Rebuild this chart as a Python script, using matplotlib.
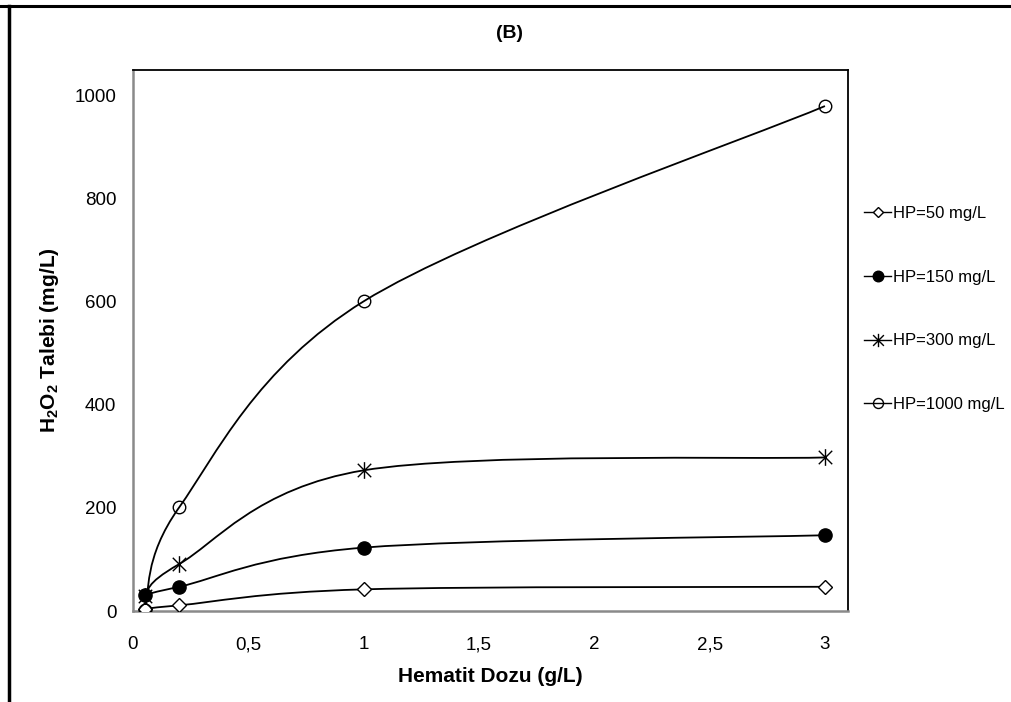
import numpy as np
import matplotlib
matplotlib.use("Agg")
import matplotlib.pyplot as plt
from matplotlib.path import Path
from matplotlib.patches import PathPatch
from matplotlib.lines import Line2D
from matplotlib.transforms import blended_transform_factory, offset_copy

plt.rcParams['font.family'] = ['Liberation Sans', 'DejaVu Sans']
plt.rcParams['mathtext.fontset'] = 'custom'
plt.rcParams['mathtext.rm'] = 'Liberation Sans:bold'
plt.rcParams['mathtext.bf'] = 'Liberation Sans:bold'
plt.rcParams['mathtext.it'] = 'Liberation Sans:bold'

# Hematite dose (g/L)
dose = [0.05, 0.2, 1.0, 3.0]

# H2O2 demand (mg/L) for each initial H2O2 concentration
hp50 = [4, 11, 42, 47]
hp150 = [31, 47, 123, 147]
hp300 = [30, 91, 273, 298]
hp1000 = [2, 201, 601, 980]

labels = ["HP=50 mg/L", "HP=150 mg/L", "HP=300 mg/L", "HP=1000 mg/L"]
title = "(B)"
xlabel = "Hematit Dozu (g/L)"
ylabel = r"H$\mathrm{_2}$O$\mathrm{_2}$ Talebi (mg/L)"
xticks = [0, 0.5, 1, 1.5, 2, 2.5, 3]
xticklabels = ["0", "0,5", "1", "1,5", "2", "2,5", "3"]
yticks = [0, 200, 400, 600, 800, 1000]

XMAX, YMAX = 3.1, 1050

# Excel-style asterisk: an X with a vertical bar
star = Path([(-0.5, -0.5), (0.5, 0.5), (-0.5, 0.5), (0.5, -0.5), (0, -0.62), (0, 0.62)],
            [Path.MOVETO, Path.LINETO, Path.MOVETO, Path.LINETO, Path.MOVETO, Path.LINETO])

styles = [
    dict(marker="D", ms=7.0, mfc="white", mec="black", mew=1.0),
    dict(marker="o", ms=9.5, mfc="black", mec="black", mew=1.0),
    dict(marker=star, ms=12, mfc="none", mec="black", mew=1.0),
    dict(marker="o", ms=9.0, mfc="none", mec="black", mew=1.0),
]

fig = plt.figure(figsize=(10.12, 7.02), dpi=100)
ax = fig.add_axes([133 / 1012, 1 - 611 / 702, (848 - 133) / 1012, (611 - 70) / 702])
ax.set_xlim(0, XMAX)
ax.set_ylim(0, YMAX)

# scale factors so smoothing is done in (approximately) screen space
sx = 715 / XMAX
sy = 541 / YMAX


def smooth_path(xs, ys):
    pts = np.column_stack([np.asarray(xs, float) * sx, np.asarray(ys, float) * sy])
    n = len(pts)
    verts = [pts[0]]
    codes = [Path.MOVETO]
    for i in range(n - 1):
        p0 = pts[i - 1] if i > 0 else pts[i]
        p1 = pts[i]
        p2 = pts[i + 1]
        p3 = pts[i + 2] if i + 2 < n else pts[i + 1]
        c1 = p1 + (p2 - p0) / 6.0
        c2 = p2 - (p3 - p1) / 6.0
        verts += [c1, c2, p2]
        codes += [Path.CURVE4] * 3
    verts = np.array(verts)
    verts[:, 0] /= sx
    verts[:, 1] /= sy
    return Path(verts, codes)


series = [hp50, hp150, hp300, hp1000]
handles = []
for ys, st, lab in zip(series, styles, labels):
    ax.add_patch(PathPatch(smooth_path(dose, ys), fc="none", ec="black", lw=1.3, zorder=2))
    ax.plot(dose, ys, ls="none", zorder=3, **st)
    handles.append(Line2D([], [], color="black", lw=1.0, label=lab,
                          marker=st["marker"], ms=st["ms"] * 0.8, mfc=st["mfc"],
                          mec=st["mec"], mew=st["mew"]))

# x tick labels share one baseline below the axis
ax.set_xticks(xticks)
ax.set_xticklabels([])
base = offset_copy(blended_transform_factory(ax.transData, ax.transAxes),
                   fig=fig, x=0, y=-38, units="dots")
for xv, lab in zip(xticks, xticklabels):
    ax.text(xv, 0, lab, transform=base, ha="center", va="baseline",
            fontsize=13.5, clip_on=False)

ax.set_yticks(yticks)
ax.tick_params(axis="both", length=0, labelsize=13.5)
ax.tick_params(axis="y", pad=12)

for side in ("left", "bottom"):
    ax.spines[side].set_color("#8a8a8a")
    ax.spines[side].set_linewidth(1.8)
for side in ("top", "right"):
    ax.spines[side].set_color("black")
    ax.spines[side].set_linewidth(1.3)

fig.text(490 / 1012, 1 - 677 / 702, xlabel, ha="center", va="center",
         fontsize=15, fontweight="bold")
ax.set_ylabel(ylabel, fontsize=15, fontweight="bold", labelpad=10)

fig.text(510 / 1012, 1 - 33 / 702, title, ha="center", va="center",
         fontsize=14, fontweight="bold")

leg = fig.legend(handles=handles, loc="center left",
                 bbox_to_anchor=(856 / 1012, 1 - 309 / 702),
                 frameon=False, fontsize=12, handlelength=1.6, handletextpad=0.1,
                 labelspacing=2.93, borderpad=0)

# outer frame of the chart area (top and left edges)
fig.add_artist(Line2D([0, 1], [1 - 6 / 702, 1 - 6 / 702], transform=fig.transFigure,
                      color="black", lw=2.2))
fig.add_artist(Line2D([8.5 / 1012, 8.5 / 1012], [0, 1 - 6 / 702], transform=fig.transFigure,
                      color="black", lw=2.5))

fig.savefig("out.png", dpi=100, facecolor="white")
